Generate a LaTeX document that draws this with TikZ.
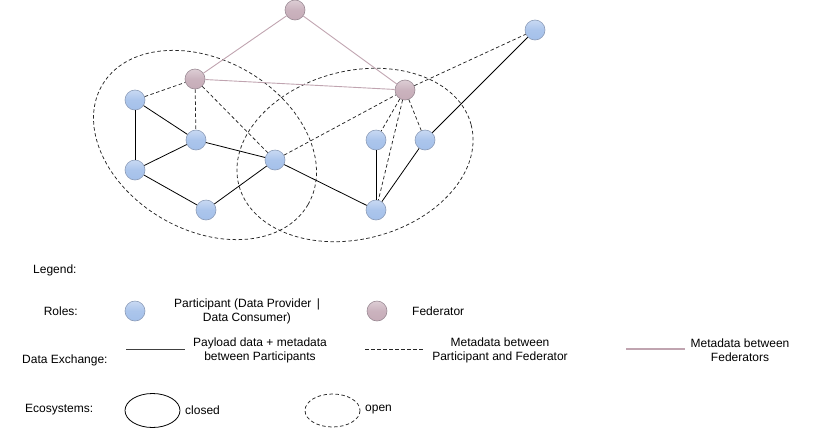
\documentclass[tikz,border=0pt]{standalone}
\usepackage{fontspec}
\setmainfont{Liberation Sans}
\begin{document}
\begin{tikzpicture}[x=1pt,y=-1pt,
  every node/.style={font=\fontsize{12}{14}\selectfont},
  part/.style={circle,minimum size=20pt,inner sep=0pt,draw=partborder,line width=0.6pt,top color=partblue!60!white,bottom color=partblue,middle color=partblue!92!white},
  fed/.style={circle,minimum size=20pt,inner sep=0pt,draw=fedborder,line width=0.6pt,top color=fedmauve!60!white,bottom color=fedmauve,middle color=fedmauve!92!white},
  pay/.style={black,line width=0.8pt},
  meta/.style={black!85,line width=0.75pt,dash pattern=on 3.5pt off 2.5pt},
  fedlink/.style={draw=fedline,line width=0.9pt},
  eco/.style={black!85,line width=0.75pt,dash pattern=on 3.5pt off 2.5pt},
  lbl/.style={inner sep=0pt,align=center},
]
\definecolor{partblue}{HTML}{A4C0EA}
\definecolor{partborder}{HTML}{8C9CB8}
\definecolor{fedmauve}{HTML}{C6ACB8}
\definecolor{fedborder}{HTML}{9A8A94}
\definecolor{fedline}{HTML}{C0A4B0}
\useasboundingbox (0,0) rectangle (816,429);

% ecosystems
\draw[eco,rotate around={-30:(205,145)}] (205,145) ellipse [x radius=119, y radius=85];
\draw[eco,rotate around={14.5:(355,155)}] (355,155) ellipse [x radius=120, y radius=84];

% nodes
\node[fed] (F0) at (295,10) {};
\node[fed] (F1) at (195,79) {};
\node[fed] (F2) at (405,90) {};
\node[part] (A) at (135,100) {};
\node[part] (B) at (196,140) {};
\node[part] (C) at (135,170) {};
\node[part] (D) at (206,210) {};
\node[part] (E) at (275,160) {};
\node[part] (G) at (376,140) {};
\node[part] (H) at (425,140) {};
\node[part] (I) at (376,210) {};
\node[part] (J) at (535,30) {};

% federator links
\draw[fedlink] (F0) -- (F1);
\draw[fedlink] (F0) -- (F2);
\draw[fedlink] (F1) -- (F2);

% payload links
\draw[pay] (A) -- (C);
\draw[pay] (A) -- (B);
\draw[pay] (B) -- (C);
\draw[pay] (C) -- (D);
\draw[pay] (D) -- (E);
\draw[pay] (B) -- (E);
\draw[pay] (E) -- (I);
\draw[pay] (G) -- (I);
\draw[pay] (I) -- (H);
\draw[pay] (H) -- (J);

% metadata links
\draw[meta] (A) -- (F1);
\draw[meta] (F1) -- (B);
\draw[meta] (F1) -- (E);
\draw[meta] (E) -- (F2);
\draw[meta] (F2) -- (G);
\draw[meta] (F2) -- (I);
\draw[meta] (F2) -- (H);
\draw[meta] (F2) -- (J);

% legend
\node[lbl,anchor=west] (leg) at (33,270) {Legend:};
\node[lbl,anchor=east] (roles) at (78,311) {Roles:};
\node[part] (LP) at (135,311) {};
\node[lbl] (LPt) at (247,311) {Participant (Data Provider \,|\\Data Consumer)};
\node[fed] (LF) at (377,311) {};
\node[lbl,anchor=west] (LFt) at (412,311) {Federator};

\node[lbl,anchor=west] (dex) at (22,360) {Data Exchange:};
\coordinate (s1) at (126,349); \coordinate (s2) at (185,349);
\draw[pay,black!75] (s1) -- (s2);
\node[lbl] (payt) at (260,350) {Payload data + metadata\\between Participants};
\coordinate (d1) at (365,349); \coordinate (d2) at (423,349);
\draw[meta] (d1) -- (d2);
\node[lbl] (metat) at (500,350) {Metadata between\\Participant and Federator};
\coordinate (p1) at (626,349); \coordinate (p2) at (685,349);
\draw[fedlink,line width=1.2pt] (p1) -- (p2);
\node[lbl] (fedt) at (740,350) {Metadata between\\Federators};

\node[lbl,anchor=west] (ecot) at (25,410) {Ecosystems:};
\draw[black,line width=0.8pt] (152.5,410.5) ellipse [x radius=27.5, y radius=17];
\node[lbl,anchor=west] (clt) at (185,410) {closed};
\draw[eco] (332.5,410.5) ellipse [x radius=27.5, y radius=16.5];
\node[lbl,anchor=west] (opt) at (365,410) {open};
\end{tikzpicture}
\end{document}
